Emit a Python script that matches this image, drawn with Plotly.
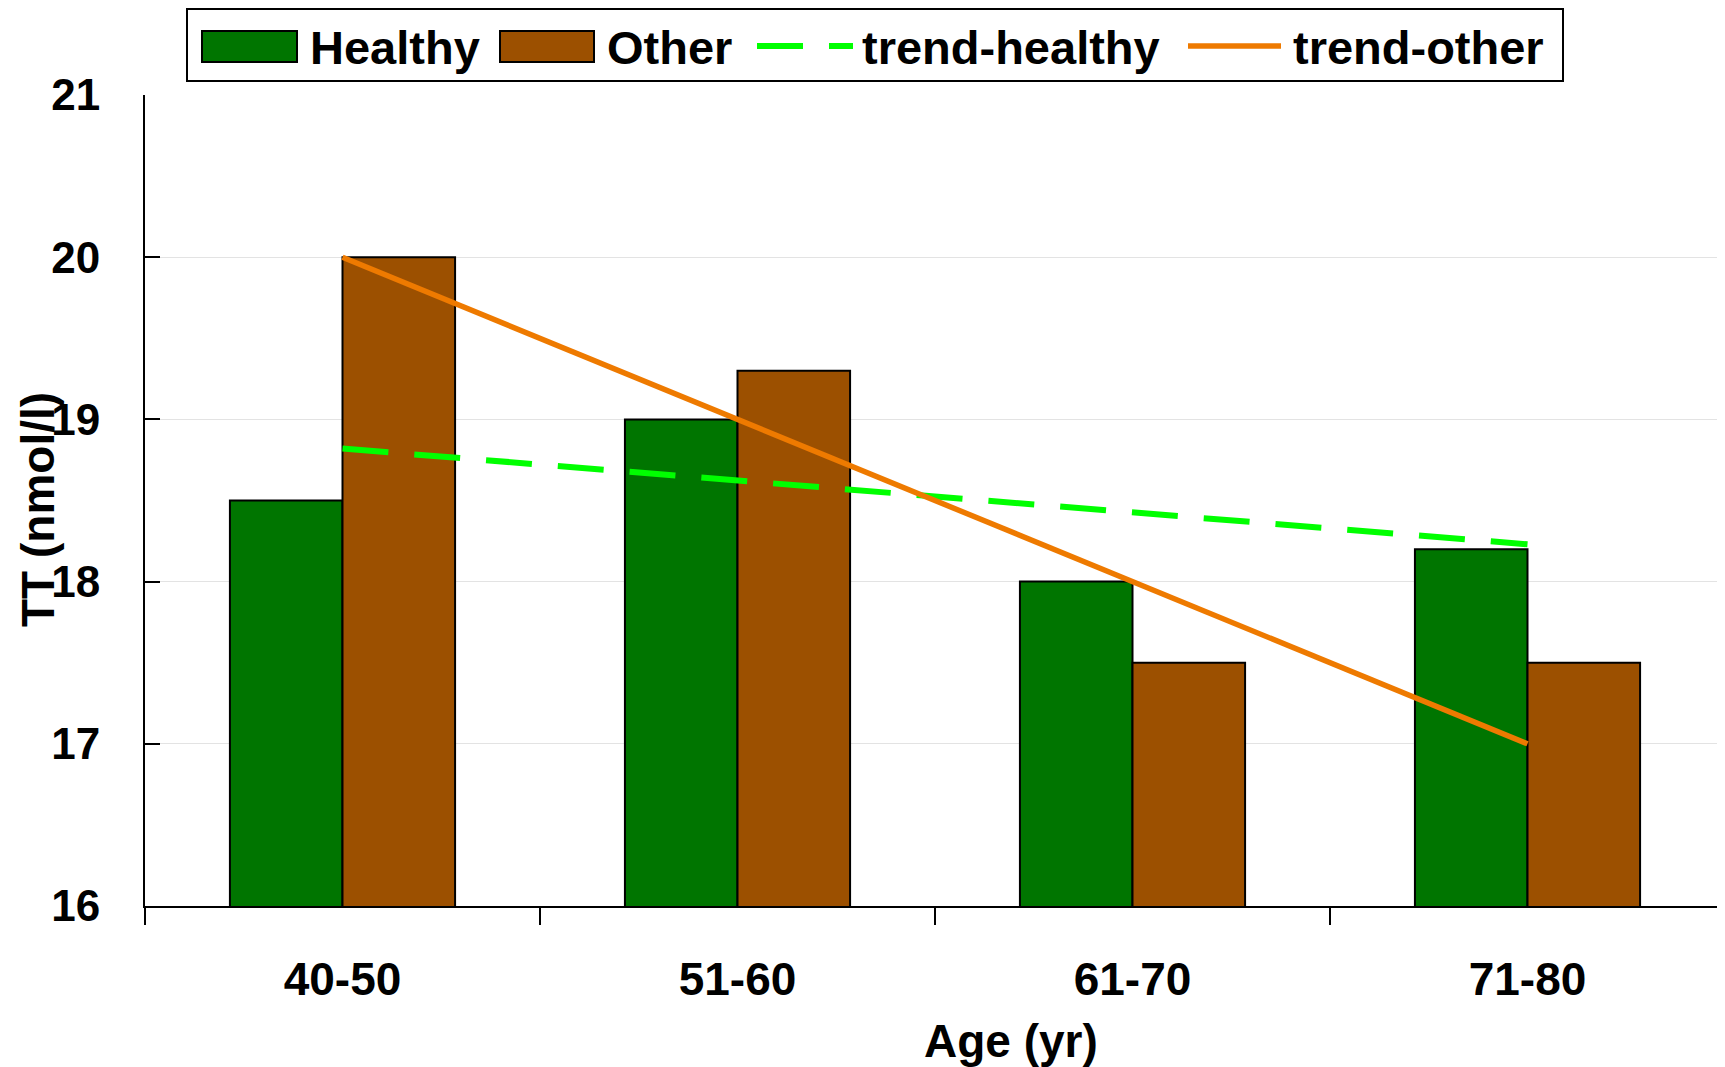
import plotly.graph_objects as go

# data
age_groups = ["40-50", "51-60", "61-70", "71-80"]
healthy = [18.5, 19.0, 18.0, 18.2]
other = [20.0, 19.3, 17.5, 17.5]
trend_x = ["40-50", "71-80"]
trend_healthy = [18.82, 18.23]
trend_other = [20.0, 17.0]

series_names = ["Healthy", "Other", "trend-healthy", "trend-other"]
y_ticks = [16, 17, 18, 19, 20, 21]

GREEN = "#007500"
BROWN = "#9c5000"
LIME = "#00ff00"
ORANGE = "#ee7a00"
FONT = "Liberation Sans"

# the page body adds an 8px margin, so the figure is drawn 8px smaller
OFF = 8
W, H = 1725 - OFF, 1067 - OFF
L, R, T, B = 145 - OFF, 0, 95 - OFF, 161
PW, PH = W - L - R, H - T - B


def px_x(px):
    return (px - OFF - L) / PW


def px_y(py):
    return (H - B - (py - OFF)) / PH


fig = go.Figure()
fig.add_bar(x=age_groups, y=healthy, name=series_names[0], marker_color=GREEN,
            marker_line=dict(color="black", width=2))
fig.add_bar(x=age_groups, y=other, name=series_names[1], marker_color=BROWN,
            marker_line=dict(color="black", width=2))
fig.add_scatter(x=trend_x, y=trend_healthy, name=series_names[2], mode="lines",
                line=dict(color=LIME, width=6, dash="46px,26px"))
fig.add_scatter(x=trend_x, y=trend_other, name=series_names[3], mode="lines",
                line=dict(color=ORANGE, width=5.5))

fig.update_layout(
    width=W, height=H, margin=dict(l=L, r=R, t=T, b=B, autoexpand=False),
    paper_bgcolor="white", plot_bgcolor="white",
    barmode="group", bargap=0.43, bargroupgap=0, showlegend=False,
    font=dict(family=FONT, color="black", weight="bold"),
)
fig.update_xaxes(
    type="category", range=[-0.5, 3.5], showline=True, linecolor="black", linewidth=2,
    ticks="outside", tickson="boundaries", ticklen=17, tickwidth=1.5, tickcolor="black",
    tickfont=dict(size=46, family=FONT, weight="bold"), ticklabelstandoff=32,
    showgrid=False, automargin=False,
)
fig.update_yaxes(
    range=[16, 21], tickvals=y_ticks, showline=True, linecolor="black", linewidth=2,
    ticks="inside", ticklen=15, tickwidth=1.5, tickcolor="black",
    tickfont=dict(size=44, family=FONT, weight="bold"), ticklabelstandoff=34,
    showgrid=True, gridcolor="#e3e3e3", gridwidth=1, zeroline=False, automargin=False,
)

# axis titles
fig.add_annotation(text="Age (yr)", xref="paper", yref="paper", x=px_x(1011), y=px_y(1041),
                   xanchor="center", yanchor="middle", showarrow=False,
                   font=dict(size=46, family=FONT, weight="bold"))
fig.add_annotation(text="TT (nmol/l)", xref="paper", yref="paper", x=px_x(38), y=px_y(510),
                   xanchor="center", yanchor="middle", textangle=-90, showarrow=False,
                   font=dict(size=46, family=FONT, weight="bold"))

# legend box drawn by hand so the swatches keep their size
shapes = [
    dict(type="rect", xref="paper", yref="paper", x0=px_x(187), x1=px_x(1563),
         y0=px_y(81), y1=px_y(9), line=dict(color="black", width=2), fillcolor="white", layer="above"),
    dict(type="rect", xref="paper", yref="paper", x0=px_x(202), x1=px_x(297),
         y0=px_y(62), y1=px_y(31), line=dict(color="black", width=2), fillcolor=GREEN, layer="above"),
    dict(type="rect", xref="paper", yref="paper", x0=px_x(500), x1=px_x(594),
         y0=px_y(62), y1=px_y(31), line=dict(color="black", width=2), fillcolor=BROWN, layer="above"),
    dict(type="line", xref="paper", yref="paper", x0=px_x(757), x1=px_x(853),
         y0=px_y(46), y1=px_y(46), line=dict(color=LIME, width=6, dash="46px,26px"), layer="above"),
    dict(type="line", xref="paper", yref="paper", x0=px_x(1188), x1=px_x(1281),
         y0=px_y(46), y1=px_y(46), line=dict(color=ORANGE, width=5.5), layer="above"),
]
fig.update_layout(shapes=shapes)
for name, left in zip(series_names, [308, 605, 860, 1291]):
    fig.add_annotation(text=name, xref="paper", yref="paper", x=px_x(left), y=px_y(47),
                       xanchor="left", yanchor="middle", showarrow=False,
                       font=dict(size=47, family=FONT, weight="bold"))

fig.write_html("out.html")
